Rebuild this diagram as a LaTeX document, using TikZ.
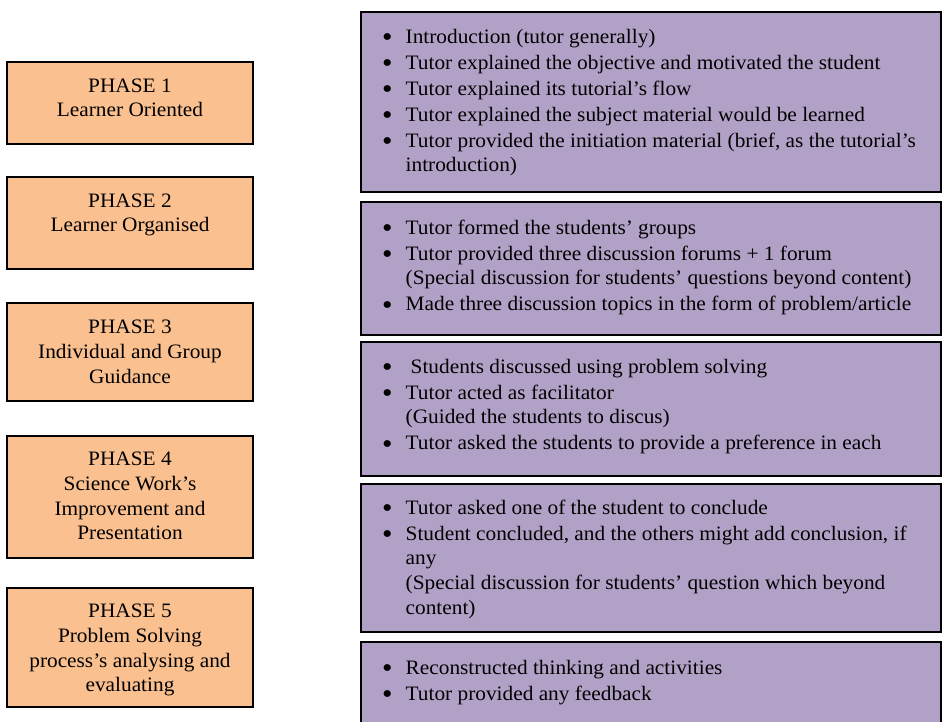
\documentclass[tikz,border=0pt]{standalone}
\usepackage{fontspec}
\setmainfont[FakeStretch=1.04]{Liberation Serif}
\definecolor{phaseorange}{HTML}{FAC090}
\definecolor{actpurple}{HTML}{B2A1C7}
\newcommand{\bfnt}{\fontsize{20.5}{24.8}\selectfont}
\newcommand{\bl}{\makebox[22.5pt][l]{\hspace*{-1pt}\smash{\raisebox{-3.6pt}{\scalebox{1.4}{\textbullet}}}}}
\newcommand{\ct}{\hspace*{22.5pt}}
\begin{document}
\begin{tikzpicture}[x=1pt,y=-1pt,
  phasebox/.style={draw=black, line width=1.6pt, fill=phaseorange, anchor=north west,
    minimum width=246pt, inner sep=0pt, outer sep=0pt},
  actbox/.style={draw=black, line width=1.6pt, fill=actpurple, anchor=north west,
    minimum width=580pt, inner sep=0pt, outer sep=0pt},
  phasetext/.style={anchor=north, align=center, inner sep=0pt, font=\bfnt},
  acttext/.style={anchor=north west, align=left, inner sep=0pt, font=\bfnt}]
\useasboundingbox (0,0) rectangle (942,722);
% phase boxes
\node[phasebox, minimum height=82pt]  (p1) at (7,62) {};
\node[phasebox, minimum height=92pt]  (p2) at (7,177) {};
\node[phasebox, minimum height=98pt]  (p3) at (7,303) {};
\node[phasebox, minimum height=122pt] (p4) at (7,436) {};
\node[phasebox, minimum height=119pt] (p5) at (7,588) {};
\node[phasetext] (pt1) at (130,74.5) {\strut PHASE 1\\Learner Oriented};
\node[phasetext] (pt2) at (130,189.5) {\strut PHASE 2\\Learner Organised};
\node[phasetext] (pt3) at (130,316) {\strut PHASE 3\\Individual and Group\\Guidance};
\node[phasetext] (pt4) at (130,448) {\strut PHASE 4\\Science Work’s\\Improvement and\\Presentation};
\node[phasetext] (pt5) at (130,600) {\strut PHASE 5\\Problem Solving\\process’s analysing and\\evaluating};
% activity boxes
\node[actbox, minimum height=180pt] (a1) at (361,12) {};
\node[actbox, minimum height=133pt] (a2) at (361,202) {};
\node[actbox, minimum height=134pt] (a3) at (361,342) {};
\node[actbox, minimum height=148pt] (a4) at (361,484) {};
\node[actbox, draw=none, minimum height=80pt] (a5) at (361,642) {};
\draw[line width=1.6pt] ([yshift=-2pt]a5.south west) -- (a5.north west) -- (a5.north east) -- ([yshift=-2pt]a5.south east);
\node[acttext] (at1) at (383,25.6) {\strut\bl Introduction (tutor generally)\\[1.2pt]
\bl Tutor explained the objective and motivated the student\\[1.2pt]
\bl Tutor explained its tutorial’s flow\\[1.2pt]
\bl Tutor explained the subject material would be learned\\[1.2pt]
\bl Tutor provided the initiation material (brief, as the tutorial’s\\
\ct introduction)};
\node[acttext] (at2) at (383,216.6) {\strut\bl Tutor formed the students’ groups\\[1.2pt]
\bl Tutor provided three discussion forums + 1 forum\\
\ct (Special discussion for students’ questions beyond content)\\[1.2pt]
\bl Made three discussion topics in the form of problem/article};
\node[acttext] (at3) at (383,355.6) {\strut\bl\hspace*{5pt}Students discussed using problem solving\\[1.2pt]
\bl Tutor acted as facilitator\\
\ct (Guided the students to discus)\\[1.2pt]
\bl Tutor asked the students to provide a preference in each};
\node[acttext] (at4) at (383,496.6) {\strut\bl Tutor asked one of the student to conclude\\[1.2pt]
\bl Student concluded, and the others might add conclusion, if\\
\ct any\\
\ct (Special discussion for students’ question which beyond\\
\ct content)};
\node[acttext] (at5) at (383,656.6) {\strut\bl Reconstructed thinking and activities\\[1.2pt]
\bl Tutor provided any feedback};
\end{tikzpicture}
\end{document}
